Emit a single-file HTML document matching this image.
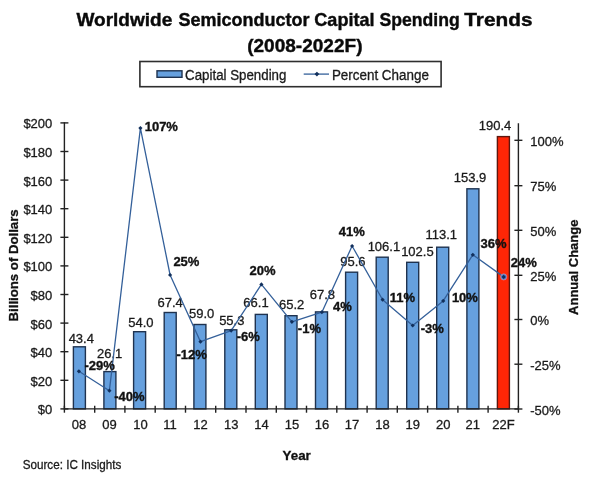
<!DOCTYPE html>
<html lang="en"><head><meta charset="utf-8"><title>Worldwide Semiconductor Capital Spending Trends</title>
<style>html,body{margin:0;padding:0;background:#fff}body{width:600px;height:477px;overflow:hidden}svg{display:block;filter:blur(.4px)}text{font-family:"Liberation Sans",Arial,sans-serif;fill:#1a1a1a}.v{font-size:13px;stroke:#1a1a1a;stroke-width:.3px}.p{font-size:13px;font-weight:bold;fill:#111;stroke:#111;stroke-width:.35px}.ax{font-size:13px;stroke:#1a1a1a;stroke-width:.3px}.t{font-size:18.5px;font-weight:bold;fill:#0a0a0a;stroke:#0a0a0a;stroke-width:.4px}.b{font-weight:bold;font-size:13px;fill:#111;stroke:#111;stroke-width:.3px}</style></head><body>
<svg width="600" height="477" viewBox="0 0 600 477">
<rect width="600" height="477" fill="#fff"/>
<text class="t" y="26.2"><tspan x="76.4" textLength="95.9" lengthAdjust="spacingAndGlyphs">Worldwide</tspan> <tspan x="178.5" textLength="131.0" lengthAdjust="spacingAndGlyphs">Semiconductor</tspan> <tspan x="314.3" textLength="60.2" lengthAdjust="spacingAndGlyphs">Capital</tspan> <tspan x="379.5" textLength="80.2" lengthAdjust="spacingAndGlyphs">Spending</tspan> <tspan x="464.3" textLength="68.2" lengthAdjust="spacingAndGlyphs">Trends</tspan></text>
<text class="t" x="247.2" y="51.6" textLength="115.3" lengthAdjust="spacingAndGlyphs">(2008-2022F)</text>
<rect x="139.9" y="61.5" width="301.2" height="25.2" fill="#fff" stroke="#2e2e2e" stroke-width="1.6"/>
<rect x="157" y="70.8" width="25" height="6.5" fill="#66a0de" stroke="#1f324f" stroke-width="1.4"/>
<text class="v" style="font-size:13.8px" x="185.1" y="80.2" textLength="101.3" lengthAdjust="spacingAndGlyphs">Capital Spending</text>
<line x1="303.7" y1="74.1" x2="329" y2="74.1" stroke="#34609a" stroke-width="1.3"/>
<path d="M316.9 71.7 L319.3 74.1 L316.9 76.5 L314.5 74.1Z" fill="#12305c"/>
<text class="v" style="font-size:13.8px" x="331.9" y="80.2" textLength="97" lengthAdjust="spacingAndGlyphs">Percent Change</text>
<rect x="73.4" y="346.8" width="12.0" height="62.1" fill="#66a0de" stroke="#1f324f" stroke-width="1.4"/>
<rect x="103.9" y="371.6" width="12.0" height="37.3" fill="#66a0de" stroke="#1f324f" stroke-width="1.4"/>
<rect x="133.6" y="331.7" width="12.0" height="77.2" fill="#66a0de" stroke="#1f324f" stroke-width="1.4"/>
<rect x="164.2" y="312.5" width="12.0" height="96.4" fill="#66a0de" stroke="#1f324f" stroke-width="1.4"/>
<rect x="193.9" y="324.5" width="12.0" height="84.4" fill="#66a0de" stroke="#1f324f" stroke-width="1.4"/>
<rect x="224.8" y="329.8" width="12.0" height="79.1" fill="#66a0de" stroke="#1f324f" stroke-width="1.4"/>
<rect x="255.3" y="314.4" width="12.0" height="94.5" fill="#66a0de" stroke="#1f324f" stroke-width="1.4"/>
<rect x="285.0" y="315.7" width="12.0" height="93.2" fill="#66a0de" stroke="#1f324f" stroke-width="1.4"/>
<rect x="315.5" y="311.9" width="12.0" height="97.0" fill="#66a0de" stroke="#1f324f" stroke-width="1.4"/>
<rect x="345.6" y="272.2" width="12.0" height="136.7" fill="#66a0de" stroke="#1f324f" stroke-width="1.4"/>
<rect x="376.2" y="257.2" width="12.0" height="151.7" fill="#66a0de" stroke="#1f324f" stroke-width="1.4"/>
<rect x="406.7" y="262.3" width="12.0" height="146.6" fill="#66a0de" stroke="#1f324f" stroke-width="1.4"/>
<rect x="436.7" y="247.2" width="12.0" height="161.7" fill="#66a0de" stroke="#1f324f" stroke-width="1.4"/>
<rect x="466.9" y="188.8" width="12.0" height="220.1" fill="#66a0de" stroke="#1f324f" stroke-width="1.4"/>
<rect x="497.4" y="136.6" width="12.0" height="272.3" fill="#ff2606" stroke="#5e160e" stroke-width="1.4"/>
<g stroke="#222" stroke-width="1.4" fill="none">
<line x1="64.4" y1="122.2" x2="64.4" y2="409.6"/>
<line x1="518.4" y1="123.2" x2="518.4" y2="409.6"/>
<line x1="64.4" y1="408.9" x2="518.4" y2="408.9"/>
<line x1="60.4" y1="408.9" x2="68.4" y2="408.9"/>
<line x1="60.4" y1="380.3" x2="68.4" y2="380.3"/>
<line x1="60.4" y1="351.7" x2="68.4" y2="351.7"/>
<line x1="60.4" y1="323.1" x2="68.4" y2="323.1"/>
<line x1="60.4" y1="294.5" x2="68.4" y2="294.5"/>
<line x1="60.4" y1="265.9" x2="68.4" y2="265.9"/>
<line x1="60.4" y1="237.3" x2="68.4" y2="237.3"/>
<line x1="60.4" y1="208.7" x2="68.4" y2="208.7"/>
<line x1="60.4" y1="180.1" x2="68.4" y2="180.1"/>
<line x1="60.4" y1="151.5" x2="68.4" y2="151.5"/>
<line x1="60.4" y1="122.9" x2="68.4" y2="122.9"/>
<line x1="514.4" y1="409.0" x2="522.4" y2="409.0"/>
<line x1="514.4" y1="364.2" x2="522.4" y2="364.2"/>
<line x1="514.4" y1="319.5" x2="522.4" y2="319.5"/>
<line x1="514.4" y1="275.3" x2="522.4" y2="275.3"/>
<line x1="514.4" y1="230.3" x2="522.4" y2="230.3"/>
<line x1="514.4" y1="185.7" x2="522.4" y2="185.7"/>
<line x1="514.4" y1="140.3" x2="522.4" y2="140.3"/>
<line x1="64.4" y1="405.7" x2="64.4" y2="412.7"/>
<line x1="94.7" y1="405.7" x2="94.7" y2="412.7"/>
<line x1="124.9" y1="405.7" x2="124.9" y2="412.7"/>
<line x1="155.2" y1="405.7" x2="155.2" y2="412.7"/>
<line x1="185.5" y1="405.7" x2="185.5" y2="412.7"/>
<line x1="215.7" y1="405.7" x2="215.7" y2="412.7"/>
<line x1="246.0" y1="405.7" x2="246.0" y2="412.7"/>
<line x1="276.3" y1="405.7" x2="276.3" y2="412.7"/>
<line x1="306.5" y1="405.7" x2="306.5" y2="412.7"/>
<line x1="336.8" y1="405.7" x2="336.8" y2="412.7"/>
<line x1="367.1" y1="405.7" x2="367.1" y2="412.7"/>
<line x1="397.3" y1="405.7" x2="397.3" y2="412.7"/>
<line x1="427.6" y1="405.7" x2="427.6" y2="412.7"/>
<line x1="457.9" y1="405.7" x2="457.9" y2="412.7"/>
<line x1="488.1" y1="405.7" x2="488.1" y2="412.7"/>
<line x1="518.4" y1="405.7" x2="518.4" y2="412.7"/>
</g>
<text class="ax" x="52.3" y="414.4" text-anchor="end">$0</text>
<text class="ax" x="52.3" y="385.8" text-anchor="end">$20</text>
<text class="ax" x="52.3" y="357.2" text-anchor="end">$40</text>
<text class="ax" x="52.3" y="328.6" text-anchor="end">$60</text>
<text class="ax" x="52.3" y="300.0" text-anchor="end">$80</text>
<text class="ax" x="52.3" y="271.4" text-anchor="end">$100</text>
<text class="ax" x="52.3" y="242.8" text-anchor="end">$120</text>
<text class="ax" x="52.3" y="214.2" text-anchor="end">$140</text>
<text class="ax" x="52.3" y="185.6" text-anchor="end">$160</text>
<text class="ax" x="52.3" y="157.0" text-anchor="end">$180</text>
<text class="ax" x="52.3" y="128.4" text-anchor="end">$200</text>
<text class="ax" x="530.2" y="414.6">-50%</text>
<text class="ax" x="530.2" y="369.8">-25%</text>
<text class="ax" x="530.2" y="325.1">0%</text>
<text class="ax" x="530.2" y="280.9">25%</text>
<text class="ax" x="530.2" y="235.9">50%</text>
<text class="ax" x="530.2" y="191.3">75%</text>
<text class="ax" x="530.2" y="145.9">100%</text>
<text class="ax" x="78.9" y="429.3" text-anchor="middle">08</text>
<text class="ax" x="109.4" y="429.3" text-anchor="middle">09</text>
<text class="ax" x="140.4" y="429.3" text-anchor="middle">10</text>
<text class="ax" x="170.1" y="429.3" text-anchor="middle">11</text>
<text class="ax" x="200.5" y="429.3" text-anchor="middle">12</text>
<text class="ax" x="231.2" y="429.3" text-anchor="middle">13</text>
<text class="ax" x="261.4" y="429.3" text-anchor="middle">14</text>
<text class="ax" x="291.9" y="429.3" text-anchor="middle">15</text>
<text class="ax" x="321.9" y="429.3" text-anchor="middle">16</text>
<text class="ax" x="352.1" y="429.3" text-anchor="middle">17</text>
<text class="ax" x="382.6" y="429.3" text-anchor="middle">18</text>
<text class="ax" x="412.7" y="429.3" text-anchor="middle">19</text>
<text class="ax" x="443.2" y="429.3" text-anchor="middle">20</text>
<text class="ax" x="472.8" y="429.3" text-anchor="middle">21</text>
<text class="ax" x="503.4" y="429.3" text-anchor="middle">22F</text>
<text class="v" x="81.3" y="342.5" text-anchor="middle">43.4</text>
<text class="v" x="109.6" y="358.0" text-anchor="middle">26.1</text>
<text class="v" x="140.9" y="327.3" text-anchor="middle">54.0</text>
<text class="v" x="170.2" y="307.3" text-anchor="middle">67.4</text>
<text class="v" x="201.6" y="317.8" text-anchor="middle">59.0</text>
<text class="v" x="231.8" y="325.1" text-anchor="middle">55.3</text>
<text class="v" x="256.0" y="307.3" text-anchor="middle">66.1</text>
<text class="v" x="291.6" y="309.3" text-anchor="middle">65.2</text>
<text class="v" x="322.4" y="298.7" text-anchor="middle">67.8</text>
<text class="v" x="352.9" y="265.9" text-anchor="middle">95.6</text>
<text class="v" x="383.9" y="250.7" text-anchor="middle">106.1</text>
<text class="v" x="417.4" y="256.2" text-anchor="middle">102.5</text>
<text class="v" x="441.2" y="239.3" text-anchor="middle">113.1</text>
<text class="v" x="470.1" y="181.6" text-anchor="middle">153.9</text>
<text class="v" x="495.0" y="129.8" text-anchor="middle">190.4</text>
<polyline points="78.9,371.3 109.4,390.7 140.4,128.1 170.1,275.0 200.5,341.7 231.2,330.6 261.4,284.4 291.9,321.8 321.9,312.2 352.1,246.0 382.6,299.7 412.7,325.5 443.2,300.9 472.8,254.8 503.7,276.9" fill="none" stroke="#34609a" stroke-width="1.3" stroke-linejoin="round"/>
<path d="M78.9 369.2 l2.1 2.1 l-2.1 2.1 l-2.1 -2.1Z" fill="#12305c"/>
<path d="M109.4 388.6 l2.1 2.1 l-2.1 2.1 l-2.1 -2.1Z" fill="#12305c"/>
<path d="M140.4 126.0 l2.1 2.1 l-2.1 2.1 l-2.1 -2.1Z" fill="#12305c"/>
<path d="M170.1 272.9 l2.1 2.1 l-2.1 2.1 l-2.1 -2.1Z" fill="#12305c"/>
<path d="M200.5 339.6 l2.1 2.1 l-2.1 2.1 l-2.1 -2.1Z" fill="#12305c"/>
<path d="M231.2 328.5 l2.1 2.1 l-2.1 2.1 l-2.1 -2.1Z" fill="#12305c"/>
<path d="M261.4 282.3 l2.1 2.1 l-2.1 2.1 l-2.1 -2.1Z" fill="#12305c"/>
<path d="M291.9 319.7 l2.1 2.1 l-2.1 2.1 l-2.1 -2.1Z" fill="#12305c"/>
<path d="M321.9 310.1 l2.1 2.1 l-2.1 2.1 l-2.1 -2.1Z" fill="#12305c"/>
<path d="M352.1 243.9 l2.1 2.1 l-2.1 2.1 l-2.1 -2.1Z" fill="#12305c"/>
<path d="M382.6 297.6 l2.1 2.1 l-2.1 2.1 l-2.1 -2.1Z" fill="#12305c"/>
<path d="M412.7 323.4 l2.1 2.1 l-2.1 2.1 l-2.1 -2.1Z" fill="#12305c"/>
<path d="M443.2 298.8 l2.1 2.1 l-2.1 2.1 l-2.1 -2.1Z" fill="#12305c"/>
<path d="M472.8 252.7 l2.1 2.1 l-2.1 2.1 l-2.1 -2.1Z" fill="#12305c"/>
<circle cx="503.7" cy="276.9" r="3.1" fill="#4c7ccc" stroke="#e6909c" stroke-width="0.6"/>
<path d="M503.7 274.8 l2.1 2.1 l-2.1 2.1 l-2.1 -2.1Z" fill="#12305c"/>
<text class="p" x="99.6" y="370.0" text-anchor="middle">-29%</text>
<text class="p" x="129.4" y="401.2" text-anchor="middle">-40%</text>
<text class="p" x="161.3" y="131.3" text-anchor="middle">107%</text>
<text class="p" x="186.4" y="266.0" text-anchor="middle">25%</text>
<text class="p" x="191.7" y="358.8" text-anchor="middle">-12%</text>
<text class="p" x="248.3" y="340.7" text-anchor="middle">-6%</text>
<text class="p" x="262.6" y="274.5" text-anchor="middle">20%</text>
<text class="p" x="309.4" y="333.3" text-anchor="middle">-1%</text>
<text class="p" x="342.4" y="310.7" text-anchor="middle">4%</text>
<text class="p" x="351.8" y="236.0" text-anchor="middle">41%</text>
<text class="p" x="402.4" y="302.1" text-anchor="middle">11%</text>
<text class="p" x="432.2" y="332.5" text-anchor="middle">-3%</text>
<text class="p" x="464.9" y="301.6" text-anchor="middle">10%</text>
<text class="p" x="493.6" y="247.5" text-anchor="middle">36%</text>
<text class="p" x="523.7" y="266.7" text-anchor="middle">24%</text>
<text class="b" transform="translate(18.4 321.4) rotate(-90)" textLength="112" lengthAdjust="spacingAndGlyphs">Billions of Dollars</text>
<text class="b" transform="translate(578.2 314.9) rotate(-90)" textLength="95.3" lengthAdjust="spacingAndGlyphs">Annual Change</text>
<text class="b" x="282.6" y="459.7" textLength="28.2" lengthAdjust="spacingAndGlyphs">Year</text>
<text x="22.7" y="469" textLength="98.6" lengthAdjust="spacingAndGlyphs" style="font-size:12.8px;fill:#1a1a1a;stroke:#1a1a1a;stroke-width:.3px">Source: IC Insights</text>
</svg></body></html>
